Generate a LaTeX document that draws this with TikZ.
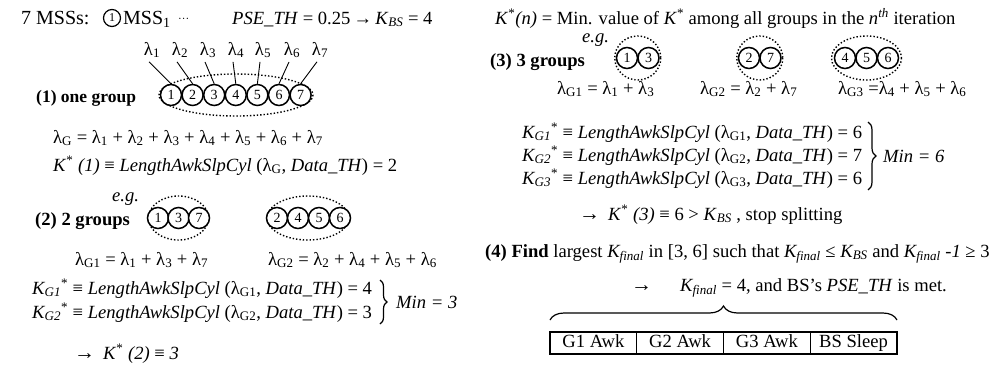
\documentclass[tikz,border=0pt]{standalone}
\usepackage{fontspec}
\setmainfont{Liberation Serif}
\usetikzlibrary{decorations.pathreplacing}
\newcommand\fs{\fontsize{18.6}{22}\selectfont}
\newcommand\sbx[1]{\textsubscript{#1}}
\newcommand\spx[1]{\textsuperscript{#1}}
\begin{document}
\begin{tikzpicture}[x=1pt,y=-1pt,font=\fs,
  t/.style={inner sep=0,anchor=base west},
  lab/.style={inner sep=0,anchor=base},
  mss/.style={circle,draw,line width=1.5pt,minimum size=21pt,inner sep=0,fill=white,font=\fontsize{14}{14}\selectfont},
  grp/.style={dotted,line width=1.4pt},
  conn/.style={line width=0.9pt},
  brc/.style={decorate,decoration={brace,amplitude=#1},line width=1.2pt},
  box/.style={draw,line width=1.1pt,minimum width=86.75pt,minimum height=22pt,inner sep=0,text height=13pt,text depth=4pt}]
\path[use as bounding box] (0,0) rectangle (997,367);

% ---------- top row
\node[t,font=\fontsize{20}{22}\selectfont] (m7) at (21,24) {7 MSSs:};
\node[mss,minimum size=17pt,line width=1.2pt,font=\fontsize{12}{12}\selectfont] (c0) at (112,18) {1};
\node[t,font=\fontsize{20}{22}\selectfont] (mss) at (123,24) {MSS\sbx{1}};
\node[t] (dots) at (178,24) {\raisebox{2pt}{\fontsize{11}{11}\selectfont ···}};
\node[t] (pse) at (232,24) {\textit{PSE\_TH} = 0.25\,→\,\textit{K}\sbx{\textit{BS}} = 4};
\node[t] (kn) at (495,24) {\textit{K}\spx{*}\textit{(n)} = Min. value of \textit{K}\spx{*} among all groups in the \textit{n}\spx{\textit{th}} iteration};

% ---------- (1) one group
\node[t,font=\fontsize{17.5}{20}\selectfont\bfseries] (g1) at (36,102) {(1) one group};
\draw[grp] (236,95) ellipse [x radius=77,y radius=21];
\foreach \i/\x in {1/152,2/180,3/208,4/236,5/263,6/292,7/320}
  \node[lab] (l\i) at (\x,55) {λ\sbx{\i}};
\foreach \i in {1,...,7}
  \node[mss] (a\i) at ({171+21.6*(\i-1)},95) {\i};
\foreach \i in {1,...,7}
  \draw[conn] ([xshift=-3pt,yshift=-4pt]l\i.south) -- (a\i.north);

\node[t] (lg) at (53,143) {λ\sbx{G} = λ\sbx{1} + λ\sbx{2} + λ\sbx{3} + λ\sbx{4} + λ\sbx{5} + λ\sbx{6} + λ\sbx{7}};
\node[t] (k1) at (53,171) {\textit{K}\spx{*} \textit{(1)} ≡ \textit{LengthAwkSlpCyl} (λ\sbx{G}, \textit{Data\_TH}) = 2};

% ---------- (2) 2 groups
\node[t,font=\fs\itshape] (eg2) at (112,201) {e.g.};
\node[t,font=\fs\bfseries] (g2) at (35,225) {(2) 2 groups};
\draw[grp] (178.5,218) ellipse [x radius=30,y radius=22];
\draw[grp] (308,218) ellipse [x radius=41,y radius=22];
\node[mss] (b1) at (158,218) {1};
\node[mss] (b3) at (178.5,218) {3};
\node[mss] (b7) at (199,218) {7};
\node[mss] (b2) at (277,218) {2};
\node[mss] (b4) at (298,218) {4};
\node[mss] (b5) at (319,218) {5};
\node[mss] (b6) at (340,218) {6};

\node[t] (lg1) at (75,265) {λ\sbx{G1} = λ\sbx{1} + λ\sbx{3} + λ\sbx{7}};
\node[t] (lg2) at (268,265) {λ\sbx{G2} = λ\sbx{2} + λ\sbx{4} + λ\sbx{5} + λ\sbx{6}};

\node[t] (kg1) at (32,294) {\textit{K\sbx{G1}}\spx{*} ≡ \textit{LengthAwkSlpCyl} (λ\sbx{G1}, \textit{Data\_TH}) = 4};
\node[t] (kg2) at (32,318) {\textit{K\sbx{G2}}\spx{*} ≡ \textit{LengthAwkSlpCyl} (λ\sbx{G2}, \textit{Data\_TH}) = 3};
\coordinate (br2a) at (380,280);
\coordinate (br2b) at (380,324);
\draw[brc=7pt] (br2a) -- (br2b);
\node[t] (min3) at (396,308) {\textit{Min = 3}};
\node[t,font=\fontsize{21}{22}\selectfont] (ar2) at (74,359) {→};
\node[t] (ks2) at (103,359) {\textit{K}\spx{*} \textit{(2)} ≡ \textit{3}};

% ---------- (3) 3 groups
\node[t,font=\fs\itshape] (eg3) at (582,42) {e.g.};
\node[t,font=\fs\bfseries] (g3) at (490,66) {(3) 3 groups};
\draw[grp] (637.75,58) ellipse [x radius=23,y radius=22];
\draw[grp] (759.75,58) ellipse [x radius=23,y radius=22];
\draw[grp] (866.5,58) ellipse [x radius=35,y radius=22];
\node[mss] (d1) at (627,58) {1};
\node[mss] (d3) at (648.5,58) {3};
\node[mss] (d2) at (749,58) {2};
\node[mss] (d7) at (770.5,58) {7};
\node[mss] (d4) at (845,58) {4};
\node[mss] (d5) at (866.5,58) {5};
\node[mss] (d6) at (888,58) {6};

\node[t] (lh1) at (557,94) {λ\sbx{G1} = λ\sbx{1} + λ\sbx{3}};
\node[t] (lh2) at (700,94) {λ\sbx{G2} = λ\sbx{2} + λ\sbx{7}};
\node[t] (lh3) at (838,94) {λ\sbx{G3} =λ\sbx{4} + λ\sbx{5} + λ\sbx{6}};

\node[t] (kh1) at (522,138) {\textit{K\sbx{G1}}\spx{*} ≡ \textit{LengthAwkSlpCyl} (λ\sbx{G1}, \textit{Data\_TH}) = 6};
\node[t] (kh2) at (522,161) {\textit{K\sbx{G2}}\spx{*} ≡ \textit{LengthAwkSlpCyl} (λ\sbx{G2}, \textit{Data\_TH}) = 7};
\node[t] (kh3) at (522,184) {\textit{K\sbx{G3}}\spx{*} ≡ \textit{LengthAwkSlpCyl} (λ\sbx{G3}, \textit{Data\_TH}) = 6};
\coordinate (br3a) at (868,122);
\coordinate (br3b) at (868,190);
\draw[brc=8pt] (br3a) -- (br3b);
\node[t] (min6) at (883,162) {\textit{Min = 6}};
\node[t,font=\fontsize{21}{22}\selectfont] (ar3) at (579,220) {→};
\node[t] (ks3) at (608,220) {\textit{K}\spx{*} \textit{(3)} ≡ 6 > \textit{K}\sbx{\textit{BS}} , stop splitting};

% ---------- (4)
\node[t] (f4) at (485,257) {\textbf{(4) Find} largest \textit{K\sbx{final}} in [3, 6] such that \textit{K\sbx{final}} ≤ \textit{K\sbx{BS}} and \textit{K\sbx{final} -1} ≥ 3};
\node[t,font=\fontsize{21}{22}\selectfont] (ar4) at (631,291) {→};
\node[t] (kf) at (680,291) {\textit{K\sbx{final}} = 4, and BS’s \textit{PSE\_TH} is met.};
\coordinate (bra) at (550,320);
\coordinate (brb) at (897,320);
\draw[brc=14pt] (bra) -- (brb);
\node[box] (x1) at (593.4,343) {G1 Awk};
\node[box] (x2) at (680.1,343) {G2 Awk};
\node[box] (x3) at (766.9,343) {G3 Awk};
\node[box] (x4) at (853.6,343) {BS Sleep};
\end{tikzpicture}
\end{document}
